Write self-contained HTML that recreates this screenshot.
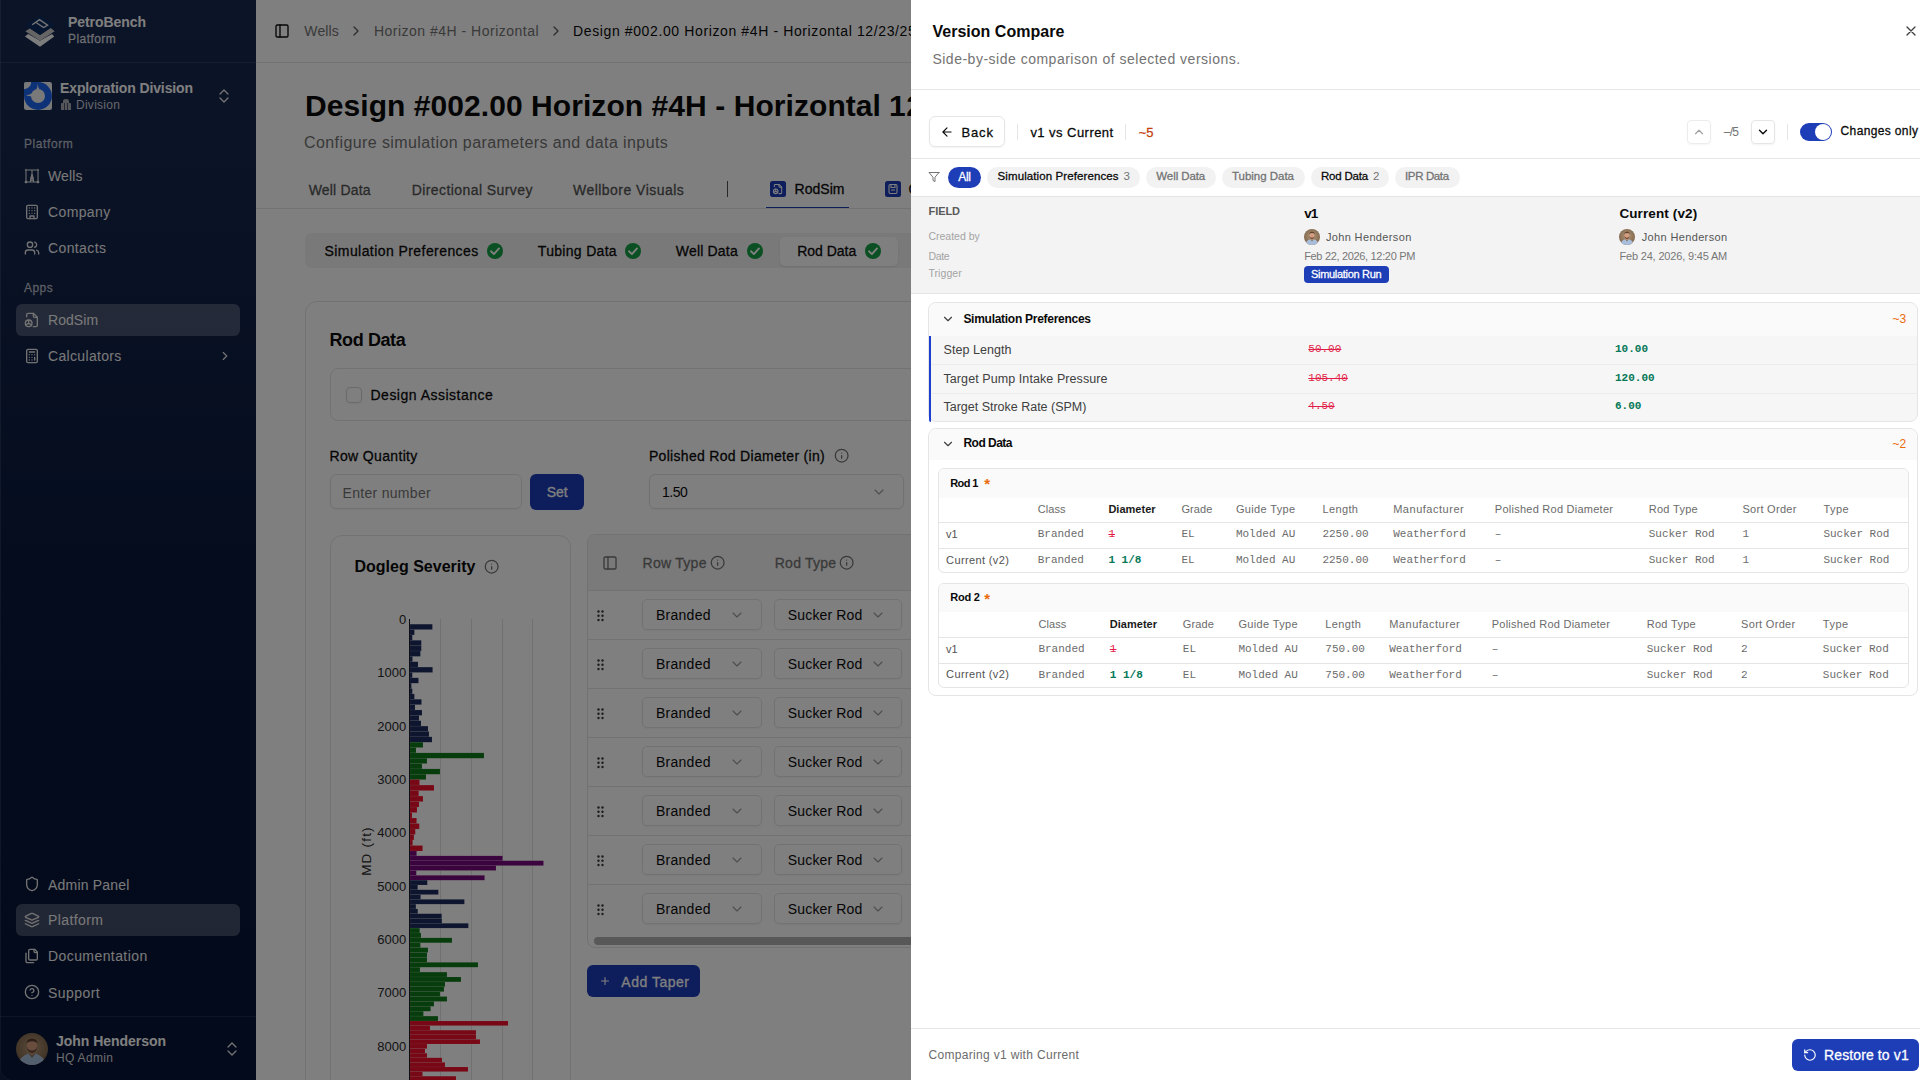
<!DOCTYPE html>
<html><head><meta charset="utf-8"><style>
html,body{margin:0;padding:0;width:1920px;height:1080px;overflow:hidden;background:#fff;font-family:'Liberation Sans',sans-serif}
.a{position:absolute;box-sizing:border-box}
.t{white-space:nowrap}
.m{-webkit-text-stroke:0.28px currentColor}

</style></head><body>
<div class="a" style="left:256px;top:0px;width:700px;height:1080px;background:#ffffff;"></div>
<div class="a" style="left:256px;top:62px;width:700px;height:1px;background:#e5e5e5;"></div>
<svg class="a" style="left:274px;top:23.2px;" width="16" height="16" viewBox="0 0 24 24" fill="none" stroke="#0a0a0a" stroke-width="2" stroke-linecap="round" stroke-linejoin="round"><rect width="18" height="18" x="3" y="3" rx="2"/><path d="M9 3v18"/></svg>
<div class="a t" id="t1" style="left:304.3px;top:24.3px;font-size:14px;line-height:14px;color:#737373;font-weight:400;font-family:'Liberation Sans',sans-serif;letter-spacing:0.118px;">Wells</div>
<svg class="a" style="left:347.9px;top:22.9px;" width="16" height="16" viewBox="0 0 24 24" fill="none" stroke="#5e5e5e" stroke-width="2" stroke-linecap="round" stroke-linejoin="round"><path d="m9 18 6-6-6-6"/></svg>
<div class="a t" id="t2" style="left:373.9px;top:24.3px;font-size:14px;line-height:14px;color:#737373;font-weight:400;font-family:'Liberation Sans',sans-serif;letter-spacing:0.498px;">Horizon #4H - Horizontal</div>
<svg class="a" style="left:547.9px;top:22.9px;" width="16" height="16" viewBox="0 0 24 24" fill="none" stroke="#5e5e5e" stroke-width="2" stroke-linecap="round" stroke-linejoin="round"><path d="m9 18 6-6-6-6"/></svg>
<div class="a t" id="t3" style="left:573px;top:24.3px;font-size:14px;line-height:14px;color:#0a0a0a;font-weight:400;font-family:'Liberation Sans',sans-serif;letter-spacing:0.62px;">Design #002.00 Horizon #4H - Horizontal 12/23/25</div>
<div class="a t" id="t4" style="left:305px;top:90.5px;font-size:30px;line-height:30px;color:#0a0a0a;font-weight:700;font-family:'Liberation Sans',sans-serif;letter-spacing:0.065px;">Design #002.00 Horizon #4H - Horizontal</div>
<div class="a t" id="t5" style="left:889px;top:90.5px;font-size:30px;line-height:30px;color:#0a0a0a;font-weight:700;font-family:'Liberation Sans',sans-serif;letter-spacing:0.6px;">12/23/25</div>
<div class="a t" id="t6" style="left:304px;top:135.1px;font-size:16px;line-height:16px;color:#737373;font-weight:400;font-family:'Liberation Sans',sans-serif;letter-spacing:0.407px;">Configure simulation parameters and data inputs</div>
<div class="a t m" id="t7" style="left:308.7px;top:183.1px;font-size:14px;line-height:14px;color:#525252;font-weight:500;font-family:'Liberation Sans',sans-serif;letter-spacing:0.184px;">Well Data</div>
<div class="a t m" id="t8" style="left:411.7px;top:183.1px;font-size:14px;line-height:14px;color:#525252;font-weight:500;font-family:'Liberation Sans',sans-serif;letter-spacing:0.422px;">Directional Survey</div>
<div class="a t m" id="t9" style="left:573px;top:183.1px;font-size:14px;line-height:14px;color:#525252;font-weight:500;font-family:'Liberation Sans',sans-serif;letter-spacing:0.467px;">Wellbore Visuals</div>
<div class="a" style="left:726.6px;top:180.8px;width:1.6px;height:16px;background:#505050;"></div>
<svg class="a" style="left:770px;top:181px" width="16" height="16" viewBox="0 0 16 16"><rect width="16" height="16" rx="2.5" fill="#1c3ab8"/><g transform="translate(2.5,2.5) scale(0.46)" fill="none" stroke="#fff" stroke-width="2.2" stroke-linecap="round" stroke-linejoin="round"><path d="M14 2v4a2 2 0 0 0 2 2h4"/><path d="M4 7V4a2 2 0 0 1 2-2h8l6 6v12a2 2 0 0 1-2 2h-4"/><circle cx="7" cy="17" r="5"/><path d="M7 12v5l4 2M7 17l-4 2"/></g></svg>
<div class="a t m" id="t10" style="left:794.5px;top:182.3px;font-size:14px;line-height:14px;color:#0a0a0a;font-weight:500;font-family:'Liberation Sans',sans-serif;letter-spacing:0.037px;">RodSim</div>
<div class="a" style="left:766px;top:207px;width:83px;height:2px;background:#1c3ab8;"></div>
<svg class="a" style="left:885px;top:181px" width="16" height="16" viewBox="0 0 16 16"><rect width="16" height="16" rx="2.5" fill="#1c3ab8"/><rect x="4" y="3.5" width="8" height="9" rx="1.2" fill="none" stroke="#fff" stroke-width="1.1"/><path d="M6 3.5v3h4v-3M6 9h4" stroke="#fff" stroke-width="1.1" fill="none"/></svg>
<div class="a t m" id="t11" style="left:908.5px;top:182.3px;font-size:14px;line-height:14px;color:#0a0a0a;font-weight:500;font-family:'Liberation Sans',sans-serif;">Calculators</div>
<div class="a" style="left:256px;top:208px;width:700px;height:1px;background:#e5e5e5;"></div>
<div class="a" style="left:304.5px;top:233.3px;width:700px;height:35px;background:#f2f2f2;border-radius:7px;"></div>
<div class="a" style="left:780px;top:237.2px;width:118px;height:28.6px;background:#ffffff;border-radius:5px;box-shadow:0 1px 2px rgba(0,0,0,0.08);"></div>
<div class="a t m" id="t12" style="left:324.5px;top:243.9px;font-size:14px;line-height:14px;color:#0a0a0a;font-weight:500;font-family:'Liberation Sans',sans-serif;letter-spacing:0.430px;">Simulation Preferences</div>
<svg class="a" style="left:487px;top:243px" width="16" height="16" viewBox="0 0 16 16"><circle cx="8" cy="8" r="8" fill="#15a046"/><path d="M4 8.3 L6.9 11.1 L12 5.4" fill="none" stroke="#fff" stroke-width="1.9" stroke-linecap="round" stroke-linejoin="round"/></svg>
<div class="a t m" id="t13" style="left:537.8px;top:243.9px;font-size:14px;line-height:14px;color:#0a0a0a;font-weight:500;font-family:'Liberation Sans',sans-serif;letter-spacing:0.310px;">Tubing Data</div>
<svg class="a" style="left:625px;top:243px" width="16" height="16" viewBox="0 0 16 16"><circle cx="8" cy="8" r="8" fill="#15a046"/><path d="M4 8.3 L6.9 11.1 L12 5.4" fill="none" stroke="#fff" stroke-width="1.9" stroke-linecap="round" stroke-linejoin="round"/></svg>
<div class="a t m" id="t14" style="left:675.8px;top:243.9px;font-size:14px;line-height:14px;color:#0a0a0a;font-weight:500;font-family:'Liberation Sans',sans-serif;letter-spacing:0.184px;">Well Data</div>
<svg class="a" style="left:747px;top:243px" width="16" height="16" viewBox="0 0 16 16"><circle cx="8" cy="8" r="8" fill="#15a046"/><path d="M4 8.3 L6.9 11.1 L12 5.4" fill="none" stroke="#fff" stroke-width="1.9" stroke-linecap="round" stroke-linejoin="round"/></svg>
<div class="a t m" id="t15" style="left:797.2px;top:243.9px;font-size:14px;line-height:14px;color:#0a0a0a;font-weight:500;font-family:'Liberation Sans',sans-serif;letter-spacing:-0.021px;">Rod Data</div>
<svg class="a" style="left:865px;top:243px" width="16" height="16" viewBox="0 0 16 16"><circle cx="8" cy="8" r="8" fill="#15a046"/><path d="M4 8.3 L6.9 11.1 L12 5.4" fill="none" stroke="#fff" stroke-width="1.9" stroke-linecap="round" stroke-linejoin="round"/></svg>
<div class="a" style="left:304.5px;top:301.3px;width:700px;height:900px;border:1px solid #e5e5e5;border-radius:12px;background:#fff;"></div>
<div class="a t" id="t16" style="left:329.5px;top:330.5px;font-size:18px;line-height:18px;color:#0a0a0a;font-weight:700;font-family:'Liberation Sans',sans-serif;letter-spacing:-0.402px;">Rod Data</div>
<div class="a" style="left:329.5px;top:368.3px;width:700px;height:53px;border:1px solid #e5e5e5;border-radius:8px;"></div>
<div class="a" style="left:346.3px;top:387.3px;width:15.6px;height:15.6px;border:1px solid #d4d4d4;border-radius:4px;box-shadow:0 1px 2px rgba(0,0,0,0.05);"></div>
<div class="a t m" id="t17" style="left:370.5px;top:387.8px;font-size:14px;line-height:14px;color:#0a0a0a;font-weight:500;font-family:'Liberation Sans',sans-serif;letter-spacing:0.491px;">Design Assistance</div>
<div class="a t m" id="t18" style="left:329.5px;top:449.3px;font-size:14px;line-height:14px;color:#0a0a0a;font-weight:500;font-family:'Liberation Sans',sans-serif;letter-spacing:0.344px;">Row Quantity</div>
<div class="a" style="left:329.5px;top:474.2px;width:192.2px;height:35px;border:1px solid #e5e5e5;border-radius:6px;box-shadow:0 1px 2px rgba(0,0,0,0.05);"></div>
<div class="a t" id="t19" style="left:342.5px;top:485.6px;font-size:14px;line-height:14px;color:#737373;font-weight:400;font-family:'Liberation Sans',sans-serif;letter-spacing:0.302px;">Enter number</div>
<div class="a" style="left:530px;top:474.2px;width:54px;height:35.5px;background:#1c3ab8;border-radius:6px;"></div>
<div class="a t m" id="t20" style="left:546.7px;top:484.8px;font-size:14px;line-height:14px;color:#ffffff;font-weight:500;font-family:'Liberation Sans',sans-serif;letter-spacing:-0.006px;">Set</div>
<div class="a t m" id="t21" style="left:648.9px;top:449.4px;font-size:14px;line-height:14px;color:#0a0a0a;font-weight:500;font-family:'Liberation Sans',sans-serif;letter-spacing:0.311px;">Polished Rod Diameter (in)</div>
<svg class="a" style="left:834.35px;top:448.35px;" width="15.3" height="15.3" viewBox="0 0 24 24" fill="none" stroke="#737373" stroke-width="2" stroke-linecap="round" stroke-linejoin="round"><circle cx="12" cy="12" r="10"/><path d="M12 16v-4M12 8h.01"/></svg>
<div class="a" style="left:648.5px;top:474.3px;width:255.2px;height:35.1px;border:1px solid #e5e5e5;border-radius:6px;box-shadow:0 1px 2px rgba(0,0,0,0.05);"></div>
<div class="a t" id="t22" style="left:662px;top:485.1px;font-size:14px;line-height:14px;color:#0a0a0a;font-weight:400;font-family:'Liberation Sans',sans-serif;letter-spacing:-0.471px;">1.50</div>
<svg class="a" style="left:871px;top:484px;" width="16" height="16" viewBox="0 0 24 24" fill="none" stroke="#9a9a9a" stroke-width="1.6" stroke-linecap="round" stroke-linejoin="round"><path d="m6 9 6 6 6-6"/></svg>
<div class="a" style="left:329.5px;top:534.5px;width:241px;height:700px;border:1px solid #e5e5e5;border-radius:12px;"></div>
<div class="a t" id="t23" style="left:354.5px;top:558.9px;font-size:16px;line-height:16px;color:#0a0a0a;font-weight:700;font-family:'Liberation Sans',sans-serif;letter-spacing:0.004px;">Dogleg Severity</div>
<svg class="a" style="left:484.35px;top:559.35px;" width="15.3" height="15.3" viewBox="0 0 24 24" fill="none" stroke="#737373" stroke-width="2" stroke-linecap="round" stroke-linejoin="round"><circle cx="12" cy="12" r="10"/><path d="M12 16v-4M12 8h.01"/></svg>
<div class="a" style="left:439.9px;top:619px;width:1px;height:470px;background:#e2e2e2;"></div>
<div class="a" style="left:471.1px;top:619px;width:1px;height:470px;background:#e2e2e2;"></div>
<div class="a" style="left:501.7px;top:619px;width:1px;height:470px;background:#e2e2e2;"></div>
<div class="a" style="left:532.2px;top:619px;width:1px;height:470px;background:#e2e2e2;"></div>
<div class="a t" style="left:340px;width:66.3px;text-align:right;top:613.1px;font-size:13px;line-height:13px;color:#2a2a2a;letter-spacing:0.05px">0</div>
<div class="a t" style="left:340px;width:66.3px;text-align:right;top:666.4px;font-size:13px;line-height:13px;color:#2a2a2a;letter-spacing:0.05px">1000</div>
<div class="a t" style="left:340px;width:66.3px;text-align:right;top:719.7px;font-size:13px;line-height:13px;color:#2a2a2a;letter-spacing:0.05px">2000</div>
<div class="a t" style="left:340px;width:66.3px;text-align:right;top:773.0px;font-size:13px;line-height:13px;color:#2a2a2a;letter-spacing:0.05px">3000</div>
<div class="a t" style="left:340px;width:66.3px;text-align:right;top:826.2px;font-size:13px;line-height:13px;color:#2a2a2a;letter-spacing:0.05px">4000</div>
<div class="a t" style="left:340px;width:66.3px;text-align:right;top:879.6px;font-size:13px;line-height:13px;color:#2a2a2a;letter-spacing:0.05px">5000</div>
<div class="a t" style="left:340px;width:66.3px;text-align:right;top:932.9px;font-size:13px;line-height:13px;color:#2a2a2a;letter-spacing:0.05px">6000</div>
<div class="a t" style="left:340px;width:66.3px;text-align:right;top:986.2px;font-size:13px;line-height:13px;color:#2a2a2a;letter-spacing:0.05px">7000</div>
<div class="a t" style="left:340px;width:66.3px;text-align:right;top:1039.5px;font-size:13px;line-height:13px;color:#2a2a2a;letter-spacing:0.05px">8000</div>
<div class="a t" style="left:336.5px;top:844px;width:60px;height:14px;font-size:13.5px;line-height:14px;color:#2a2a2a;text-align:center;transform:rotate(-90deg);letter-spacing:1.2px">MD (ft)</div>
<svg class="a" style="left:409.6px;top:600px" width="160" height="480" viewBox="0 0 160 480"><rect x="0" y="24.20" width="22.4" height="5.36" fill="#1c2a5c" stroke="rgba(255,255,255,0.18)" stroke-width="0.5"/><rect x="0" y="29.56" width="4.4" height="5.36" fill="#1c2a5c" stroke="rgba(255,255,255,0.18)" stroke-width="0.5"/><rect x="0" y="34.93" width="2.3" height="5.36" fill="#1c2a5c" stroke="rgba(255,255,255,0.18)" stroke-width="0.5"/><rect x="0" y="40.29" width="11.3" height="5.36" fill="#1c2a5c" stroke="rgba(255,255,255,0.18)" stroke-width="0.5"/><rect x="0" y="45.65" width="11.3" height="5.36" fill="#1c2a5c" stroke="rgba(255,255,255,0.18)" stroke-width="0.5"/><rect x="0" y="51.02" width="10.4" height="5.36" fill="#1c2a5c" stroke="rgba(255,255,255,0.18)" stroke-width="0.5"/><rect x="0" y="56.38" width="2.5" height="5.36" fill="#1c2a5c" stroke="rgba(255,255,255,0.18)" stroke-width="0.5"/><rect x="0" y="61.75" width="8.0" height="5.36" fill="#1c2a5c" stroke="rgba(255,255,255,0.18)" stroke-width="0.5"/><rect x="0" y="67.11" width="22.6" height="5.36" fill="#1c2a5c" stroke="rgba(255,255,255,0.18)" stroke-width="0.5"/><rect x="0" y="72.47" width="2.3" height="5.36" fill="#1c2a5c" stroke="rgba(255,255,255,0.18)" stroke-width="0.5"/><rect x="0" y="77.84" width="8.5" height="5.36" fill="#1c2a5c" stroke="rgba(255,255,255,0.18)" stroke-width="0.5"/><rect x="0" y="83.20" width="1.4" height="5.36" fill="#1c2a5c" stroke="rgba(255,255,255,0.18)" stroke-width="0.5"/><rect x="0" y="88.56" width="2.3" height="5.36" fill="#1c2a5c" stroke="rgba(255,255,255,0.18)" stroke-width="0.5"/><rect x="0" y="93.93" width="4.4" height="5.36" fill="#1c2a5c" stroke="rgba(255,255,255,0.18)" stroke-width="0.5"/><rect x="0" y="99.29" width="11.5" height="5.36" fill="#1c2a5c" stroke="rgba(255,255,255,0.18)" stroke-width="0.5"/><rect x="0" y="104.65" width="5.0" height="5.36" fill="#1c2a5c" stroke="rgba(255,255,255,0.18)" stroke-width="0.5"/><rect x="0" y="110.02" width="12.0" height="5.36" fill="#1c2a5c" stroke="rgba(255,255,255,0.18)" stroke-width="0.5"/><rect x="0" y="115.38" width="9.0" height="5.36" fill="#1c2a5c" stroke="rgba(255,255,255,0.18)" stroke-width="0.5"/><rect x="0" y="120.75" width="11.0" height="5.36" fill="#1c2a5c" stroke="rgba(255,255,255,0.18)" stroke-width="0.5"/><rect x="0" y="126.11" width="18.0" height="5.36" fill="#1c2a5c" stroke="rgba(255,255,255,0.18)" stroke-width="0.5"/><rect x="0" y="131.47" width="19.0" height="5.36" fill="#1c2a5c" stroke="rgba(255,255,255,0.18)" stroke-width="0.5"/><rect x="0" y="136.84" width="22.0" height="5.36" fill="#1c2a5c" stroke="rgba(255,255,255,0.18)" stroke-width="0.5"/><rect x="0" y="142.20" width="13.0" height="5.34" fill="#0f7a1a" stroke="rgba(255,255,255,0.18)" stroke-width="0.5"/><rect x="0" y="147.54" width="6.0" height="5.34" fill="#0f7a1a" stroke="rgba(255,255,255,0.18)" stroke-width="0.5"/><rect x="0" y="152.89" width="74.0" height="5.34" fill="#0f7a1a" stroke="rgba(255,255,255,0.18)" stroke-width="0.5"/><rect x="0" y="158.23" width="17.0" height="5.34" fill="#0f7a1a" stroke="rgba(255,255,255,0.18)" stroke-width="0.5"/><rect x="0" y="163.57" width="12.0" height="5.34" fill="#0f7a1a" stroke="rgba(255,255,255,0.18)" stroke-width="0.5"/><rect x="0" y="168.91" width="30.0" height="5.34" fill="#0f7a1a" stroke="rgba(255,255,255,0.18)" stroke-width="0.5"/><rect x="0" y="174.26" width="16.0" height="5.34" fill="#0f7a1a" stroke="rgba(255,255,255,0.18)" stroke-width="0.5"/><rect x="0" y="179.60" width="9.5" height="5.49" fill="#f0102a" stroke="rgba(255,255,255,0.18)" stroke-width="0.5"/><rect x="0" y="185.09" width="24.0" height="5.49" fill="#f0102a" stroke="rgba(255,255,255,0.18)" stroke-width="0.5"/><rect x="0" y="190.58" width="8.7" height="5.49" fill="#f0102a" stroke="rgba(255,255,255,0.18)" stroke-width="0.5"/><rect x="0" y="196.08" width="13.0" height="5.49" fill="#f0102a" stroke="rgba(255,255,255,0.18)" stroke-width="0.5"/><rect x="0" y="201.57" width="9.0" height="5.49" fill="#f0102a" stroke="rgba(255,255,255,0.18)" stroke-width="0.5"/><rect x="0" y="207.06" width="7.0" height="5.49" fill="#f0102a" stroke="rgba(255,255,255,0.18)" stroke-width="0.5"/><rect x="0" y="212.55" width="2.0" height="5.49" fill="#f0102a" stroke="rgba(255,255,255,0.18)" stroke-width="0.5"/><rect x="0" y="218.05" width="6.6" height="5.49" fill="#f0102a" stroke="rgba(255,255,255,0.18)" stroke-width="0.5"/><rect x="0" y="223.54" width="9.3" height="5.49" fill="#f0102a" stroke="rgba(255,255,255,0.18)" stroke-width="0.5"/><rect x="0" y="229.03" width="5.3" height="5.49" fill="#f0102a" stroke="rgba(255,255,255,0.18)" stroke-width="0.5"/><rect x="0" y="234.52" width="3.9" height="5.49" fill="#f0102a" stroke="rgba(255,255,255,0.18)" stroke-width="0.5"/><rect x="0" y="240.02" width="2.6" height="5.49" fill="#f0102a" stroke="rgba(255,255,255,0.18)" stroke-width="0.5"/><rect x="0" y="245.51" width="12.6" height="5.49" fill="#f0102a" stroke="rgba(255,255,255,0.18)" stroke-width="0.5"/><rect x="0" y="251.00" width="6.6" height="4.87" fill="#78087e" stroke="rgba(255,255,255,0.18)" stroke-width="0.5"/><rect x="0" y="255.87" width="92.6" height="4.87" fill="#78087e" stroke="rgba(255,255,255,0.18)" stroke-width="0.5"/><rect x="0" y="260.73" width="133.5" height="4.87" fill="#78087e" stroke="rgba(255,255,255,0.18)" stroke-width="0.5"/><rect x="0" y="265.60" width="86.0" height="4.87" fill="#78087e" stroke="rgba(255,255,255,0.18)" stroke-width="0.5"/><rect x="0" y="270.47" width="6.3" height="4.87" fill="#78087e" stroke="rgba(255,255,255,0.18)" stroke-width="0.5"/><rect x="0" y="275.33" width="74.6" height="4.87" fill="#78087e" stroke="rgba(255,255,255,0.18)" stroke-width="0.5"/><rect x="0" y="280.20" width="17.3" height="4.79" fill="#1c2a5c" stroke="rgba(255,255,255,0.18)" stroke-width="0.5"/><rect x="0" y="284.99" width="7.7" height="4.79" fill="#1c2a5c" stroke="rgba(255,255,255,0.18)" stroke-width="0.5"/><rect x="0" y="289.78" width="28.4" height="4.79" fill="#1c2a5c" stroke="rgba(255,255,255,0.18)" stroke-width="0.5"/><rect x="0" y="294.57" width="10.6" height="4.79" fill="#1c2a5c" stroke="rgba(255,255,255,0.18)" stroke-width="0.5"/><rect x="0" y="299.36" width="54.4" height="4.79" fill="#1c2a5c" stroke="rgba(255,255,255,0.18)" stroke-width="0.5"/><rect x="0" y="304.15" width="5.9" height="4.79" fill="#1c2a5c" stroke="rgba(255,255,255,0.18)" stroke-width="0.5"/><rect x="0" y="308.94" width="7.8" height="4.79" fill="#1c2a5c" stroke="rgba(255,255,255,0.18)" stroke-width="0.5"/><rect x="0" y="313.73" width="31.7" height="4.79" fill="#1c2a5c" stroke="rgba(255,255,255,0.18)" stroke-width="0.5"/><rect x="0" y="318.52" width="31.9" height="4.79" fill="#1c2a5c" stroke="rgba(255,255,255,0.18)" stroke-width="0.5"/><rect x="0" y="323.31" width="58.4" height="4.79" fill="#1c2a5c" stroke="rgba(255,255,255,0.18)" stroke-width="0.5"/><rect x="0" y="328.10" width="9.7" height="4.89" fill="#0f7a1a" stroke="rgba(255,255,255,0.18)" stroke-width="0.5"/><rect x="0" y="332.99" width="11.0" height="4.89" fill="#0f7a1a" stroke="rgba(255,255,255,0.18)" stroke-width="0.5"/><rect x="0" y="337.88" width="42.0" height="4.89" fill="#0f7a1a" stroke="rgba(255,255,255,0.18)" stroke-width="0.5"/><rect x="0" y="342.77" width="10.4" height="4.89" fill="#0f7a1a" stroke="rgba(255,255,255,0.18)" stroke-width="0.5"/><rect x="0" y="347.66" width="18.0" height="4.89" fill="#0f7a1a" stroke="rgba(255,255,255,0.18)" stroke-width="0.5"/><rect x="0" y="352.55" width="17.0" height="4.89" fill="#0f7a1a" stroke="rgba(255,255,255,0.18)" stroke-width="0.5"/><rect x="0" y="357.44" width="17.0" height="4.89" fill="#0f7a1a" stroke="rgba(255,255,255,0.18)" stroke-width="0.5"/><rect x="0" y="362.33" width="68.0" height="4.89" fill="#0f7a1a" stroke="rgba(255,255,255,0.18)" stroke-width="0.5"/><rect x="0" y="367.22" width="10.0" height="4.89" fill="#0f7a1a" stroke="rgba(255,255,255,0.18)" stroke-width="0.5"/><rect x="0" y="372.11" width="37.0" height="4.89" fill="#0f7a1a" stroke="rgba(255,255,255,0.18)" stroke-width="0.5"/><rect x="0" y="376.99" width="51.0" height="4.89" fill="#0f7a1a" stroke="rgba(255,255,255,0.18)" stroke-width="0.5"/><rect x="0" y="381.88" width="35.0" height="4.89" fill="#0f7a1a" stroke="rgba(255,255,255,0.18)" stroke-width="0.5"/><rect x="0" y="386.77" width="34.0" height="4.89" fill="#0f7a1a" stroke="rgba(255,255,255,0.18)" stroke-width="0.5"/><rect x="0" y="391.66" width="30.0" height="4.89" fill="#0f7a1a" stroke="rgba(255,255,255,0.18)" stroke-width="0.5"/><rect x="0" y="396.55" width="37.0" height="4.89" fill="#0f7a1a" stroke="rgba(255,255,255,0.18)" stroke-width="0.5"/><rect x="0" y="401.44" width="24.0" height="4.89" fill="#0f7a1a" stroke="rgba(255,255,255,0.18)" stroke-width="0.5"/><rect x="0" y="406.33" width="20.6" height="4.89" fill="#0f7a1a" stroke="rgba(255,255,255,0.18)" stroke-width="0.5"/><rect x="0" y="411.22" width="13.4" height="4.89" fill="#0f7a1a" stroke="rgba(255,255,255,0.18)" stroke-width="0.5"/><rect x="0" y="416.11" width="28.0" height="4.89" fill="#0f7a1a" stroke="rgba(255,255,255,0.18)" stroke-width="0.5"/><rect x="0" y="421.00" width="98.0" height="4.60" fill="#f0102a" stroke="rgba(255,255,255,0.18)" stroke-width="0.5"/><rect x="0" y="425.60" width="20.0" height="4.60" fill="#f0102a" stroke="rgba(255,255,255,0.18)" stroke-width="0.5"/><rect x="0" y="430.20" width="66.0" height="4.60" fill="#f0102a" stroke="rgba(255,255,255,0.18)" stroke-width="0.5"/><rect x="0" y="434.80" width="66.0" height="4.60" fill="#f0102a" stroke="rgba(255,255,255,0.18)" stroke-width="0.5"/><rect x="0" y="439.40" width="70.0" height="4.60" fill="#f0102a" stroke="rgba(255,255,255,0.18)" stroke-width="0.5"/><rect x="0" y="444.00" width="17.0" height="4.60" fill="#f0102a" stroke="rgba(255,255,255,0.18)" stroke-width="0.5"/><rect x="0" y="448.60" width="15.0" height="4.60" fill="#f0102a" stroke="rgba(255,255,255,0.18)" stroke-width="0.5"/><rect x="0" y="453.20" width="17.0" height="4.60" fill="#f0102a" stroke="rgba(255,255,255,0.18)" stroke-width="0.5"/><rect x="0" y="457.80" width="32.0" height="4.60" fill="#f0102a" stroke="rgba(255,255,255,0.18)" stroke-width="0.5"/><rect x="0" y="462.40" width="35.0" height="4.60" fill="#f0102a" stroke="rgba(255,255,255,0.18)" stroke-width="0.5"/><rect x="0" y="467.00" width="58.0" height="4.60" fill="#f0102a" stroke="rgba(255,255,255,0.18)" stroke-width="0.5"/><rect x="0" y="471.60" width="12.5" height="4.60" fill="#f0102a" stroke="rgba(255,255,255,0.18)" stroke-width="0.5"/><rect x="0" y="476.20" width="46.0" height="4.60" fill="#f0102a" stroke="rgba(255,255,255,0.18)" stroke-width="0.5"/><rect x="0" y="480.80" width="20.0" height="4.60" fill="#f0102a" stroke="rgba(255,255,255,0.18)" stroke-width="0.5"/></svg>
<div class="a" style="left:408.8px;top:619px;width:1.6px;height:470px;background:#1a1a2a;"></div>
<div class="a" style="left:587.4px;top:534.4px;width:500px;height:414px;border:1px solid #e5e5e5;border-radius:8px;overflow:hidden;"></div>
<div class="a" style="left:588.4px;top:535.4px;width:400px;height:55.5px;background:#f4f4f4;border-radius:7px 0 0 0;"></div>
<div class="a" style="left:588.4px;top:590.4px;width:400px;height:1px;background:#e5e5e5;"></div>
<svg class="a" style="left:602px;top:555px;" width="16" height="16" viewBox="0 0 24 24" fill="none" stroke="#737373" stroke-width="2" stroke-linecap="round" stroke-linejoin="round"><rect width="18" height="18" x="3" y="3" rx="2"/><path d="M9 3v18"/></svg>
<div class="a t m" id="t24" style="left:642.6px;top:555.9px;font-size:14px;line-height:14px;color:#737373;font-weight:500;font-family:'Liberation Sans',sans-serif;letter-spacing:0.267px;">Row Type</div>
<svg class="a" style="left:710.35px;top:555.35px;" width="15.3" height="15.3" viewBox="0 0 24 24" fill="none" stroke="#737373" stroke-width="2" stroke-linecap="round" stroke-linejoin="round"><circle cx="12" cy="12" r="10"/><path d="M12 16v-4M12 8h.01"/></svg>
<div class="a t m" id="t25" style="left:774.8px;top:555.9px;font-size:14px;line-height:14px;color:#737373;font-weight:500;font-family:'Liberation Sans',sans-serif;letter-spacing:0.217px;">Rod Type</div>
<svg class="a" style="left:839.35px;top:555.35px;" width="15.3" height="15.3" viewBox="0 0 24 24" fill="none" stroke="#737373" stroke-width="2" stroke-linecap="round" stroke-linejoin="round"><circle cx="12" cy="12" r="10"/><path d="M12 16v-4M12 8h.01"/></svg>
<div class="a" style="left:588.4px;top:639.1px;width:400px;height:1px;background:#e5e5e5;"></div>
<svg class="a" style="left:596.5px;top:609.5px" width="8" height="12" viewBox="0 0 8 12" fill="#3a3a3a"><circle cx="1.5" cy="1.5" r="1.2"/><circle cx="1.5" cy="5.75" r="1.2"/><circle cx="1.5" cy="10" r="1.2"/><circle cx="5.5" cy="1.5" r="1.2"/><circle cx="5.5" cy="5.75" r="1.2"/><circle cx="5.5" cy="10" r="1.2"/></svg>
<div class="a" style="left:642.4px;top:599.4px;width:119.6px;height:31.1px;border:1px solid #e5e5e5;border-radius:5px;box-shadow:0 1px 2px rgba(0,0,0,0.05);"></div>
<div class="a t" id="t26" style="left:656px;top:607.8px;font-size:14px;line-height:14px;color:#0a0a0a;font-weight:400;font-family:'Liberation Sans',sans-serif;letter-spacing:0.256px;">Branded</div>
<svg class="a" style="left:729px;top:606.9px;" width="16" height="16" viewBox="0 0 24 24" fill="none" stroke="#9a9a9a" stroke-width="1.6" stroke-linecap="round" stroke-linejoin="round"><path d="m6 9 6 6 6-6"/></svg>
<div class="a" style="left:774.4px;top:599.4px;width:127.4px;height:31.1px;border:1px solid #e5e5e5;border-radius:5px;box-shadow:0 1px 2px rgba(0,0,0,0.05);"></div>
<div class="a t" id="t27" style="left:787.8px;top:607.8px;font-size:14px;line-height:14px;color:#0a0a0a;font-weight:400;font-family:'Liberation Sans',sans-serif;letter-spacing:0.152px;">Sucker Rod</div>
<svg class="a" style="left:869.5px;top:606.9px;" width="16" height="16" viewBox="0 0 24 24" fill="none" stroke="#9a9a9a" stroke-width="1.6" stroke-linecap="round" stroke-linejoin="round"><path d="m6 9 6 6 6-6"/></svg>
<div class="a" style="left:588.4px;top:688.1px;width:400px;height:1px;background:#e5e5e5;"></div>
<svg class="a" style="left:596.5px;top:658.5px" width="8" height="12" viewBox="0 0 8 12" fill="#3a3a3a"><circle cx="1.5" cy="1.5" r="1.2"/><circle cx="1.5" cy="5.75" r="1.2"/><circle cx="1.5" cy="10" r="1.2"/><circle cx="5.5" cy="1.5" r="1.2"/><circle cx="5.5" cy="5.75" r="1.2"/><circle cx="5.5" cy="10" r="1.2"/></svg>
<div class="a" style="left:642.4px;top:648.4px;width:119.6px;height:31.1px;border:1px solid #e5e5e5;border-radius:5px;box-shadow:0 1px 2px rgba(0,0,0,0.05);"></div>
<div class="a t" id="t28" style="left:656px;top:656.8px;font-size:14px;line-height:14px;color:#0a0a0a;font-weight:400;font-family:'Liberation Sans',sans-serif;letter-spacing:0.256px;">Branded</div>
<svg class="a" style="left:729px;top:655.9px;" width="16" height="16" viewBox="0 0 24 24" fill="none" stroke="#9a9a9a" stroke-width="1.6" stroke-linecap="round" stroke-linejoin="round"><path d="m6 9 6 6 6-6"/></svg>
<div class="a" style="left:774.4px;top:648.4px;width:127.4px;height:31.1px;border:1px solid #e5e5e5;border-radius:5px;box-shadow:0 1px 2px rgba(0,0,0,0.05);"></div>
<div class="a t" id="t29" style="left:787.8px;top:656.8px;font-size:14px;line-height:14px;color:#0a0a0a;font-weight:400;font-family:'Liberation Sans',sans-serif;letter-spacing:0.152px;">Sucker Rod</div>
<svg class="a" style="left:869.5px;top:655.9px;" width="16" height="16" viewBox="0 0 24 24" fill="none" stroke="#9a9a9a" stroke-width="1.6" stroke-linecap="round" stroke-linejoin="round"><path d="m6 9 6 6 6-6"/></svg>
<div class="a" style="left:588.4px;top:737.1px;width:400px;height:1px;background:#e5e5e5;"></div>
<svg class="a" style="left:596.5px;top:707.5px" width="8" height="12" viewBox="0 0 8 12" fill="#3a3a3a"><circle cx="1.5" cy="1.5" r="1.2"/><circle cx="1.5" cy="5.75" r="1.2"/><circle cx="1.5" cy="10" r="1.2"/><circle cx="5.5" cy="1.5" r="1.2"/><circle cx="5.5" cy="5.75" r="1.2"/><circle cx="5.5" cy="10" r="1.2"/></svg>
<div class="a" style="left:642.4px;top:697.4px;width:119.6px;height:31.1px;border:1px solid #e5e5e5;border-radius:5px;box-shadow:0 1px 2px rgba(0,0,0,0.05);"></div>
<div class="a t" id="t30" style="left:656px;top:705.8px;font-size:14px;line-height:14px;color:#0a0a0a;font-weight:400;font-family:'Liberation Sans',sans-serif;letter-spacing:0.256px;">Branded</div>
<svg class="a" style="left:729px;top:704.9px;" width="16" height="16" viewBox="0 0 24 24" fill="none" stroke="#9a9a9a" stroke-width="1.6" stroke-linecap="round" stroke-linejoin="round"><path d="m6 9 6 6 6-6"/></svg>
<div class="a" style="left:774.4px;top:697.4px;width:127.4px;height:31.1px;border:1px solid #e5e5e5;border-radius:5px;box-shadow:0 1px 2px rgba(0,0,0,0.05);"></div>
<div class="a t" id="t31" style="left:787.8px;top:705.8px;font-size:14px;line-height:14px;color:#0a0a0a;font-weight:400;font-family:'Liberation Sans',sans-serif;letter-spacing:0.152px;">Sucker Rod</div>
<svg class="a" style="left:869.5px;top:704.9px;" width="16" height="16" viewBox="0 0 24 24" fill="none" stroke="#9a9a9a" stroke-width="1.6" stroke-linecap="round" stroke-linejoin="round"><path d="m6 9 6 6 6-6"/></svg>
<div class="a" style="left:588.4px;top:786.1px;width:400px;height:1px;background:#e5e5e5;"></div>
<svg class="a" style="left:596.5px;top:756.5px" width="8" height="12" viewBox="0 0 8 12" fill="#3a3a3a"><circle cx="1.5" cy="1.5" r="1.2"/><circle cx="1.5" cy="5.75" r="1.2"/><circle cx="1.5" cy="10" r="1.2"/><circle cx="5.5" cy="1.5" r="1.2"/><circle cx="5.5" cy="5.75" r="1.2"/><circle cx="5.5" cy="10" r="1.2"/></svg>
<div class="a" style="left:642.4px;top:746.4px;width:119.6px;height:31.1px;border:1px solid #e5e5e5;border-radius:5px;box-shadow:0 1px 2px rgba(0,0,0,0.05);"></div>
<div class="a t" id="t32" style="left:656px;top:754.8px;font-size:14px;line-height:14px;color:#0a0a0a;font-weight:400;font-family:'Liberation Sans',sans-serif;letter-spacing:0.256px;">Branded</div>
<svg class="a" style="left:729px;top:753.9px;" width="16" height="16" viewBox="0 0 24 24" fill="none" stroke="#9a9a9a" stroke-width="1.6" stroke-linecap="round" stroke-linejoin="round"><path d="m6 9 6 6 6-6"/></svg>
<div class="a" style="left:774.4px;top:746.4px;width:127.4px;height:31.1px;border:1px solid #e5e5e5;border-radius:5px;box-shadow:0 1px 2px rgba(0,0,0,0.05);"></div>
<div class="a t" id="t33" style="left:787.8px;top:754.8px;font-size:14px;line-height:14px;color:#0a0a0a;font-weight:400;font-family:'Liberation Sans',sans-serif;letter-spacing:0.152px;">Sucker Rod</div>
<svg class="a" style="left:869.5px;top:753.9px;" width="16" height="16" viewBox="0 0 24 24" fill="none" stroke="#9a9a9a" stroke-width="1.6" stroke-linecap="round" stroke-linejoin="round"><path d="m6 9 6 6 6-6"/></svg>
<div class="a" style="left:588.4px;top:835.1px;width:400px;height:1px;background:#e5e5e5;"></div>
<svg class="a" style="left:596.5px;top:805.5px" width="8" height="12" viewBox="0 0 8 12" fill="#3a3a3a"><circle cx="1.5" cy="1.5" r="1.2"/><circle cx="1.5" cy="5.75" r="1.2"/><circle cx="1.5" cy="10" r="1.2"/><circle cx="5.5" cy="1.5" r="1.2"/><circle cx="5.5" cy="5.75" r="1.2"/><circle cx="5.5" cy="10" r="1.2"/></svg>
<div class="a" style="left:642.4px;top:795.4px;width:119.6px;height:31.1px;border:1px solid #e5e5e5;border-radius:5px;box-shadow:0 1px 2px rgba(0,0,0,0.05);"></div>
<div class="a t" id="t34" style="left:656px;top:803.8px;font-size:14px;line-height:14px;color:#0a0a0a;font-weight:400;font-family:'Liberation Sans',sans-serif;letter-spacing:0.256px;">Branded</div>
<svg class="a" style="left:729px;top:802.9px;" width="16" height="16" viewBox="0 0 24 24" fill="none" stroke="#9a9a9a" stroke-width="1.6" stroke-linecap="round" stroke-linejoin="round"><path d="m6 9 6 6 6-6"/></svg>
<div class="a" style="left:774.4px;top:795.4px;width:127.4px;height:31.1px;border:1px solid #e5e5e5;border-radius:5px;box-shadow:0 1px 2px rgba(0,0,0,0.05);"></div>
<div class="a t" id="t35" style="left:787.8px;top:803.8px;font-size:14px;line-height:14px;color:#0a0a0a;font-weight:400;font-family:'Liberation Sans',sans-serif;letter-spacing:0.152px;">Sucker Rod</div>
<svg class="a" style="left:869.5px;top:802.9px;" width="16" height="16" viewBox="0 0 24 24" fill="none" stroke="#9a9a9a" stroke-width="1.6" stroke-linecap="round" stroke-linejoin="round"><path d="m6 9 6 6 6-6"/></svg>
<div class="a" style="left:588.4px;top:884.1px;width:400px;height:1px;background:#e5e5e5;"></div>
<svg class="a" style="left:596.5px;top:854.5px" width="8" height="12" viewBox="0 0 8 12" fill="#3a3a3a"><circle cx="1.5" cy="1.5" r="1.2"/><circle cx="1.5" cy="5.75" r="1.2"/><circle cx="1.5" cy="10" r="1.2"/><circle cx="5.5" cy="1.5" r="1.2"/><circle cx="5.5" cy="5.75" r="1.2"/><circle cx="5.5" cy="10" r="1.2"/></svg>
<div class="a" style="left:642.4px;top:844.4px;width:119.6px;height:31.1px;border:1px solid #e5e5e5;border-radius:5px;box-shadow:0 1px 2px rgba(0,0,0,0.05);"></div>
<div class="a t" id="t36" style="left:656px;top:852.8px;font-size:14px;line-height:14px;color:#0a0a0a;font-weight:400;font-family:'Liberation Sans',sans-serif;letter-spacing:0.256px;">Branded</div>
<svg class="a" style="left:729px;top:851.9px;" width="16" height="16" viewBox="0 0 24 24" fill="none" stroke="#9a9a9a" stroke-width="1.6" stroke-linecap="round" stroke-linejoin="round"><path d="m6 9 6 6 6-6"/></svg>
<div class="a" style="left:774.4px;top:844.4px;width:127.4px;height:31.1px;border:1px solid #e5e5e5;border-radius:5px;box-shadow:0 1px 2px rgba(0,0,0,0.05);"></div>
<div class="a t" id="t37" style="left:787.8px;top:852.8px;font-size:14px;line-height:14px;color:#0a0a0a;font-weight:400;font-family:'Liberation Sans',sans-serif;letter-spacing:0.152px;">Sucker Rod</div>
<svg class="a" style="left:869.5px;top:851.9px;" width="16" height="16" viewBox="0 0 24 24" fill="none" stroke="#9a9a9a" stroke-width="1.6" stroke-linecap="round" stroke-linejoin="round"><path d="m6 9 6 6 6-6"/></svg>
<svg class="a" style="left:596.5px;top:903.5px" width="8" height="12" viewBox="0 0 8 12" fill="#3a3a3a"><circle cx="1.5" cy="1.5" r="1.2"/><circle cx="1.5" cy="5.75" r="1.2"/><circle cx="1.5" cy="10" r="1.2"/><circle cx="5.5" cy="1.5" r="1.2"/><circle cx="5.5" cy="5.75" r="1.2"/><circle cx="5.5" cy="10" r="1.2"/></svg>
<div class="a" style="left:642.4px;top:893.4px;width:119.6px;height:31.1px;border:1px solid #e5e5e5;border-radius:5px;box-shadow:0 1px 2px rgba(0,0,0,0.05);"></div>
<div class="a t" id="t38" style="left:656px;top:901.8px;font-size:14px;line-height:14px;color:#0a0a0a;font-weight:400;font-family:'Liberation Sans',sans-serif;letter-spacing:0.256px;">Branded</div>
<svg class="a" style="left:729px;top:900.9px;" width="16" height="16" viewBox="0 0 24 24" fill="none" stroke="#9a9a9a" stroke-width="1.6" stroke-linecap="round" stroke-linejoin="round"><path d="m6 9 6 6 6-6"/></svg>
<div class="a" style="left:774.4px;top:893.4px;width:127.4px;height:31.1px;border:1px solid #e5e5e5;border-radius:5px;box-shadow:0 1px 2px rgba(0,0,0,0.05);"></div>
<div class="a t" id="t39" style="left:787.8px;top:901.8px;font-size:14px;line-height:14px;color:#0a0a0a;font-weight:400;font-family:'Liberation Sans',sans-serif;letter-spacing:0.152px;">Sucker Rod</div>
<svg class="a" style="left:869.5px;top:900.9px;" width="16" height="16" viewBox="0 0 24 24" fill="none" stroke="#9a9a9a" stroke-width="1.6" stroke-linecap="round" stroke-linejoin="round"><path d="m6 9 6 6 6-6"/></svg>
<div class="a" style="left:594px;top:937px;width:340px;height:8px;background:#b0b0b0;border-radius:4px;"></div>
<div class="a" style="left:587.1px;top:965.3px;width:112.5px;height:31.5px;background:#1c3ab8;border-radius:6px;"></div>
<svg class="a" style="left:599px;top:975px;" width="12" height="12" viewBox="0 0 24 24" fill="none" stroke="#fff" stroke-width="2.2" stroke-linecap="round" stroke-linejoin="round"><path d="M5 12h14M12 5v14"/></svg>
<div class="a t m" id="t40" style="left:621.3px;top:974.6px;font-size:14px;line-height:14px;color:#ffffff;font-weight:500;font-family:'Liberation Sans',sans-serif;letter-spacing:0.520px;">Add Taper</div>
<div class="a" style="left:0px;top:0px;width:256px;height:1080px;background:rgb(16,30,64);"></div>
<div class="a" style="left:0px;top:-20px;width:256px;height:1101px;background:linear-gradient(180deg,rgb(24,40,80) 0%,rgb(22,38,76) 15%,rgb(8,24,60) 55%,rgb(6,20,54) 100%);border-left:1px solid rgba(255,255,255,0.10);border-bottom:1px solid rgba(255,255,255,0.10);border-bottom-left-radius:13px;"></div>
<div class="a" style="left:0px;top:62px;width:256px;height:1px;background:rgba(255,255,255,0.10);"></div>
<svg class="a" style="left:0;top:0" width="80" height="62" viewBox="0 0 80 62"><polygon points="24.9,36.6 28.2,34.1 40.0,40.7 51.9,34.1 54.3,36.6 40.0,46.8" fill="#fafafa"/><polygon points="25.3,31.3 29.8,28.4 40.0,34.9 50.7,28.0 54.7,31.3 40.0,40.7" fill="#cacaca"/><polygon points="25.3,25.1 40.0,15.8 54.7,25.1 40.0,34.9" fill="#0f2d60"/><path d="M32.2,24.8 L39.5,19.6 L47.6,25.2 L43.6,27.6 L36.4,22.8" fill="none" stroke="#f0f0f0" stroke-width="1.3"/><path d="M38.5,21.4 L45,25.6" stroke="#f0f0f0" stroke-width="0" /></svg>
<div class="a t" id="t41" style="left:68px;top:15.1px;font-size:14px;line-height:14px;color:#ffffff;font-weight:700;font-family:'Liberation Sans',sans-serif;letter-spacing:-0.061px;">PetroBench</div>
<div class="a t m" id="t42" style="left:68px;top:32.8px;font-size:12px;line-height:12px;color:rgba(255,255,255,0.78);font-weight:500;font-family:'Liberation Sans',sans-serif;letter-spacing:0.442px;">Platform</div>
<svg class="a" style="left:24px;top:82px" width="28" height="28" viewBox="0 0 28 28"><defs><clipPath id="dv"><rect x="0" y="0" width="28" height="28" rx="2.2"/></clipPath></defs><g clip-path="url(#dv)"><rect x="0" y="0" width="28" height="28" fill="#f2f2f2"/><circle cx="14" cy="14" r="13.9" fill="#1b64ee"/><rect x="0" y="0" width="14" height="14" fill="#1b64ee"/><circle cx="0" cy="0" r="7.2" fill="#f2f2f2"/><circle cx="14" cy="14" r="7" fill="#f2f2f2"/><path d="M1.6 13.4 Q6 12.6 8.5 11 L8.8 14.8 Q5 13.8 1.6 13.4Z" fill="#f2f2f2"/><path d="M13.5 1.2 Q13.9 5 12.3 7.6 L15.6 7.4 Q13.9 5 13.5 1.2Z" fill="#f2f2f2"/></g></svg>
<div class="a t" id="t43" style="left:60px;top:81.1px;font-size:14px;line-height:14px;color:#ffffff;font-weight:700;font-family:'Liberation Sans',sans-serif;letter-spacing:-0.121px;">Exploration Division</div>
<svg class="a" style="left:60px;top:98px" width="12" height="13" viewBox="0 0 12 13"><path d="M1 12 V6 Q1 5 2 5 H3 V3 Q3 1 6 1 Q9 1 9 3 V5 H10 Q11 5 11 6 V12 Z" fill="#a9acb3"/><path d="M4.5 5v7M7.5 5v7" stroke="#303a55" stroke-width="0.8"/></svg>
<div class="a t" id="t44" style="left:76px;top:98.8px;font-size:12px;line-height:12px;color:rgba(255,255,255,0.78);font-weight:400;font-family:'Liberation Sans',sans-serif;letter-spacing:0.265px;">Division</div>
<svg class="a" style="left:218px;top:88px;" width="12" height="16" viewBox="0 0 12 16" fill="none" stroke="#e8e8e8" stroke-width="1.3" stroke-linecap="round" stroke-linejoin="round"><path d="M2 6 L6 2 L10 6 M2 10 L6 14 L10 10"/></svg>
<div class="a t m" id="t45" style="left:24px;top:137.8px;font-size:12px;line-height:12px;color:rgba(255,255,255,0.62);font-weight:500;font-family:'Liberation Sans',sans-serif;letter-spacing:0.575px;">Platform</div>
<div class="a t m" id="t46" style="left:24px;top:281.8px;font-size:12px;line-height:12px;color:rgba(255,255,255,0.62);font-weight:500;font-family:'Liberation Sans',sans-serif;letter-spacing:0.469px;">Apps</div>
<div class="a" style="left:16px;top:304px;width:224px;height:32px;background:rgba(255,255,255,0.23);border-radius:6px;"></div>
<div class="a" style="left:16px;top:904px;width:224px;height:32px;background:rgba(255,255,255,0.245);border-radius:6px;"></div>
<div class="a t" id="t47" style="left:48px;top:169.1px;font-size:14px;line-height:14px;color:#f2f2f2;font-weight:400;font-family:'Liberation Sans',sans-serif;letter-spacing:0.118px;">Wells</div>
<div class="a t" id="t48" style="left:48px;top:205.1px;font-size:14px;line-height:14px;color:#f2f2f2;font-weight:400;font-family:'Liberation Sans',sans-serif;letter-spacing:0.381px;">Company</div>
<div class="a t" id="t49" style="left:48px;top:241.1px;font-size:14px;line-height:14px;color:#f2f2f2;font-weight:400;font-family:'Liberation Sans',sans-serif;letter-spacing:0.380px;">Contacts</div>
<div class="a t" id="t50" style="left:48px;top:313.1px;font-size:14px;line-height:14px;color:#f2f2f2;font-weight:400;font-family:'Liberation Sans',sans-serif;letter-spacing:0.055px;">RodSim</div>
<div class="a t" id="t51" style="left:48px;top:349.1px;font-size:14px;line-height:14px;color:#f2f2f2;font-weight:400;font-family:'Liberation Sans',sans-serif;letter-spacing:0.330px;">Calculators</div>
<div class="a t" id="t52" style="left:48px;top:877.6px;font-size:14px;line-height:14px;color:#f2f2f2;font-weight:400;font-family:'Liberation Sans',sans-serif;letter-spacing:0.201px;">Admin Panel</div>
<div class="a t" id="t53" style="left:48px;top:913.3px;font-size:14px;line-height:14px;color:#f2f2f2;font-weight:400;font-family:'Liberation Sans',sans-serif;letter-spacing:0.410px;">Platform</div>
<div class="a t" id="t54" style="left:48px;top:949.4px;font-size:14px;line-height:14px;color:#f2f2f2;font-weight:400;font-family:'Liberation Sans',sans-serif;letter-spacing:0.418px;">Documentation</div>
<div class="a t" id="t55" style="left:48px;top:985.6px;font-size:14px;line-height:14px;color:#f2f2f2;font-weight:400;font-family:'Liberation Sans',sans-serif;letter-spacing:0.454px;">Support</div>
<svg class="a" style="left:24px;top:168px;" width="16" height="16" viewBox="0 0 24 24" fill="none" stroke="#e6e6e6" stroke-width="1.6" stroke-linecap="round" stroke-linejoin="round"><rect x="1.5" y="1.5" width="21" height="21" rx="1" stroke-width="0"/><path d="M2 3h20M3 2v20M21 2v20M2 21h20M12 4v3M9.5 20 L12 8 L14.5 20M10 14h4"/><circle cx="12" cy="17" r="1.6"/><circle cx="3" cy="21" r="1.2"/><circle cx="21" cy="21" r="1.2"/></svg>
<svg class="a" style="left:24px;top:204px;" width="16" height="16" viewBox="0 0 24 24" fill="none" stroke="#e6e6e6" stroke-width="2" stroke-linecap="round" stroke-linejoin="round"><rect x="4" y="2" width="16" height="20" rx="2"/><path d="M9 22v-4h6v4M8 6h.01M16 6h.01M12 6h.01M12 10h.01M12 14h.01M16 10h.01M16 14h.01M8 10h.01M8 14h.01"/></svg>
<svg class="a" style="left:24px;top:240px;" width="16" height="16" viewBox="0 0 24 24" fill="none" stroke="#e6e6e6" stroke-width="2" stroke-linecap="round" stroke-linejoin="round"><path d="M16 21v-2a4 4 0 0 0-4-4H6a4 4 0 0 0-4 4v2"/><circle cx="9" cy="7" r="4"/><path d="M22 21v-2a4 4 0 0 0-3-3.87M16 3.13a4 4 0 0 1 0 7.75"/></svg>
<svg class="a" style="left:24px;top:312px;" width="16" height="16" viewBox="0 0 24 24" fill="none" stroke="#e6e6e6" stroke-width="2" stroke-linecap="round" stroke-linejoin="round"><path d="M14 2v4a2 2 0 0 0 2 2h4"/><path d="M4 7V4a2 2 0 0 1 2-2h8l6 6v12a2 2 0 0 1-2 2h-4"/><circle cx="7" cy="17" r="5"/><path d="M7 12v5l4 2M7 17l-4 2"/></svg>
<svg class="a" style="left:24px;top:348px;" width="16" height="16" viewBox="0 0 24 24" fill="none" stroke="#e6e6e6" stroke-width="2" stroke-linecap="round" stroke-linejoin="round"><rect x="4" y="2" width="16" height="20" rx="2"/><path d="M8 6h8M16 14v4M16 10h.01M12 10h.01M8 10h.01M12 14h.01M8 14h.01M12 18h.01M8 18h.01"/></svg>
<svg class="a" style="left:218px;top:349px;" width="14" height="14" viewBox="0 0 24 24" fill="none" stroke="#e6e6e6" stroke-width="2" stroke-linecap="round" stroke-linejoin="round"><path d="m9 18 6-6-6-6"/></svg>
<svg class="a" style="left:24px;top:876px;" width="16" height="16" viewBox="0 0 24 24" fill="none" stroke="#e6e6e6" stroke-width="2" stroke-linecap="round" stroke-linejoin="round"><path d="M20 13c0 5-3.5 7.5-7.66 8.95a1 1 0 0 1-.67-.01C7.5 20.5 4 18 4 13V6a1 1 0 0 1 1-1c2 0 4.5-1.2 6.24-2.72a1.17 1.17 0 0 1 1.52 0C14.51 3.81 17 5 19 5a1 1 0 0 1 1 1z"/></svg>
<svg class="a" style="left:24px;top:912px;" width="16" height="16" viewBox="0 0 24 24" fill="none" stroke="#e6e6e6" stroke-width="2" stroke-linecap="round" stroke-linejoin="round"><path d="m12.83 2.18a2 2 0 0 0-1.66 0L2.6 6.08a1 1 0 0 0 0 1.83l8.58 3.91a2 2 0 0 0 1.66 0l8.58-3.9a1 1 0 0 0 0-1.83Z"/><path d="m22 17.65-9.17 4.16a2 2 0 0 1-1.66 0L2 17.65"/><path d="m22 12.65-9.17 4.16a2 2 0 0 1-1.66 0L2 12.65"/></svg>
<svg class="a" style="left:24px;top:948px;" width="16" height="16" viewBox="0 0 24 24" fill="none" stroke="#e6e6e6" stroke-width="2" stroke-linecap="round" stroke-linejoin="round"><path d="M20 7h-3a2 2 0 0 1-2-2V2"/><path d="M9 18a2 2 0 0 1-2-2V4a2 2 0 0 1 2-2h7l4 4v10a2 2 0 0 1-2 2Z"/><path d="M3 7.6v12.8A1.6 1.6 0 0 0 4.6 22h9.8"/></svg>
<svg class="a" style="left:24px;top:984px;" width="16" height="16" viewBox="0 0 24 24" fill="none" stroke="#e6e6e6" stroke-width="2" stroke-linecap="round" stroke-linejoin="round"><circle cx="12" cy="12" r="10"/><path d="M9.09 9a3 3 0 0 1 5.83 1c0 2-3 3-3 3M12 17h.01"/></svg>
<div class="a" style="left:0px;top:1016px;width:256px;height:1px;background:rgba(255,255,255,0.10);"></div>
<svg class="a" style="left:16px;top:1033px" width="32" height="32" viewBox="0 0 32 32"><defs><clipPath id="avc1"><circle cx="16" cy="16" r="16"/></clipPath><radialGradient id="avg1" cx="50%" cy="45%" r="60%"><stop offset="0" stop-color="#b49a78"/><stop offset="1" stop-color="#7a6048"/></radialGradient></defs><g clip-path="url(#avc1)"><rect width="32" height="32" fill="url(#avg1)"/><rect x="13" y="16" width="6" height="6" fill="#b98a6c"/><path d="M2 32 Q4 23 12.5 20.5 L16 25 L19.5 20.5 Q28 23 30 32Z" fill="#a8bedb"/><path d="M12.5 20.5 L16 25 L14.5 22Z M19.5 20.5 L16 25 L17.5 22Z" fill="#5d708a"/><ellipse cx="16" cy="12.8" rx="5.2" ry="6.6" fill="#d29d80"/><path d="M10.8 13.5 Q11.5 19.8 16 20 Q20.5 19.8 21.2 13.5 Q20 17.5 16 17.6 Q12 17.5 10.8 13.5Z" fill="#6e4c38"/><path d="M10.6 11 Q10.6 5.5 16 5.4 Q21.6 5.5 21.4 11 Q20.5 8.2 16 8.2 Q11.6 8.2 10.6 11Z" fill="#5a3e2c"/></g></svg>
<div class="a t" id="t56" style="left:56px;top:1034.1px;font-size:14px;line-height:14px;color:#ffffff;font-weight:700;font-family:'Liberation Sans',sans-serif;letter-spacing:-0.035px;">John Henderson</div>
<div class="a t" id="t57" style="left:56px;top:1051.8px;font-size:12px;line-height:12px;color:rgba(255,255,255,0.85);font-weight:400;font-family:'Liberation Sans',sans-serif;letter-spacing:0.308px;">HQ Admin</div>
<svg class="a" style="left:226px;top:1041px;" width="12" height="16" viewBox="0 0 12 16" fill="none" stroke="#e8e8e8" stroke-width="1.3" stroke-linecap="round" stroke-linejoin="round"><path d="M2 6 L6 2 L10 6 M2 10 L6 14 L10 10"/></svg>
<div class="a" style="left:0;top:0;width:911px;height:1080px;background:rgba(0,0,0,0.5)"></div>
<div class="a" style="left:911px;top:0px;width:1009px;height:1080px;background:#ffffff;"></div>
<div class="a t" id="t58" style="left:932.4px;top:23.5px;font-size:16px;line-height:16px;color:#0a0a0a;font-weight:700;font-family:'Liberation Sans',sans-serif;letter-spacing:0.027px;">Version Compare</div>
<div class="a t" id="t59" style="left:932.4px;top:51.8px;font-size:14px;line-height:14px;color:#737373;font-weight:400;font-family:'Liberation Sans',sans-serif;letter-spacing:0.504px;">Side-by-side comparison of selected versions.</div>
<svg class="a" style="left:1903px;top:22.7px;" width="16" height="16" viewBox="0 0 24 24" fill="none" stroke="#3c3c3c" stroke-width="1.9" stroke-linecap="round" stroke-linejoin="round"><path d="M18 6 6 18M6 6l12 12"/></svg>
<div class="a" style="left:911px;top:89px;width:1009px;height:1px;background:#e5e5e5;"></div>
<div class="a" style="left:928.5px;top:116.2px;width:76px;height:31.2px;border:1px solid #e5e5e5;border-radius:6px;box-shadow:0 1px 2px rgba(0,0,0,0.05);"></div>
<svg class="a" style="left:939.8px;top:125.1px;" width="14" height="14" viewBox="0 0 24 24" fill="none" stroke="#0a0a0a" stroke-width="2" stroke-linecap="round" stroke-linejoin="round"><path d="m12 19-7-7 7-7M19 12H5"/></svg>
<div class="a t m" id="t60" style="left:961.4px;top:125.55px;font-size:13px;line-height:13px;color:#0a0a0a;font-weight:500;font-family:'Liberation Sans',sans-serif;letter-spacing:0.884px;">Back</div>
<div class="a" style="left:1017px;top:124.4px;width:1px;height:15.6px;background:#e5e5e5;"></div>
<div class="a t m" id="t61" style="left:1030.4px;top:125.55px;font-size:13px;line-height:13px;color:#0a0a0a;font-weight:500;font-family:'Liberation Sans',sans-serif;letter-spacing:0.455px;">v1 vs Current</div>
<div class="a" style="left:1125.2px;top:124.4px;width:1px;height:15.6px;background:#e5e5e5;"></div>
<div class="a t m" id="t62" style="left:1138.7px;top:125.55px;font-size:13px;line-height:13px;color:#c2410c;font-weight:500;font-family:'Liberation Sans',sans-serif;letter-spacing:-0.152px;">~5</div>
<div class="a" style="left:1687.3px;top:120.2px;width:23.4px;height:23.4px;border:1px solid #ececec;border-radius:4px;box-shadow:0 1px 2px rgba(0,0,0,0.04);"></div>
<svg class="a" style="left:1692px;top:125px;" width="14" height="14" viewBox="0 0 24 24" fill="none" stroke="#a0a0a0" stroke-width="2" stroke-linecap="round" stroke-linejoin="round"><path d="m18 15-6-6-6 6"/></svg>
<div class="a t" id="t63" style="left:1723.8px;top:125.6px;font-size:12px;line-height:12px;color:#737373;font-weight:400;font-family:'Liberation Sans',sans-serif;letter-spacing:-0.835px;">–/5</div>
<div class="a" style="left:1751.4px;top:120.2px;width:23.4px;height:23.4px;border:1px solid #e5e5e5;border-radius:4px;box-shadow:0 1px 2px rgba(0,0,0,0.05);"></div>
<svg class="a" style="left:1756px;top:125px;" width="14" height="14" viewBox="0 0 24 24" fill="none" stroke="#0a0a0a" stroke-width="2.4" stroke-linecap="round" stroke-linejoin="round"><path d="m6 9 6 6 6-6"/></svg>
<div class="a" style="left:1787.2px;top:124px;width:1px;height:15.7px;background:#e5e5e5;"></div>
<div class="a" style="left:1800px;top:122.8px;width:32px;height:18.2px;background:#1e3eb8;border-radius:9.1px;"></div>
<div class="a" style="left:1815px;top:123.9px;width:16px;height:16px;background:#fff;border-radius:8px;"></div>
<div class="a t m" id="t64" style="left:1840.6px;top:125.2px;font-size:12px;line-height:12px;color:#0a0a0a;font-weight:500;font-family:'Liberation Sans',sans-serif;letter-spacing:0.357px;">Changes only</div>
<div class="a" style="left:911px;top:158.3px;width:1009px;height:1px;background:#e5e5e5;"></div>
<svg class="a" style="left:928px;top:171px;" width="12" height="12" viewBox="0 0 24 24" fill="none" stroke="#737373" stroke-width="2" stroke-linecap="round" stroke-linejoin="round"><path d="M22 3H2l8 9.46V19l4 2v-8.54L22 3z"/></svg>
<div class="a" style="left:948px;top:167px;width:33px;height:20.7px;background:#1e3eb8;border-radius:10.5px;"></div>
<div class="a t m" id="t65" style="left:958.3px;top:170.6px;font-size:12px;line-height:12px;color:#ffffff;font-weight:500;font-family:'Liberation Sans',sans-serif;letter-spacing:-0.298px;">All</div>
<div class="a" style="left:987.2px;top:167px;width:152.5999999999999px;height:20.7px;background:#f2f2f2;border-radius:10.5px;"></div>
<div class="a t m" id="t66" style="left:997.6px;top:171.03px;font-size:11.5px;line-height:11.5px;color:#0a0a0a;font-weight:500;font-family:'Liberation Sans',sans-serif;letter-spacing:0.097px;">Simulation Preferences</div>
<div class="a t" id="t67" style="left:1123.5px;top:171.03px;font-size:11.5px;line-height:11.5px;color:#737373;font-weight:400;font-family:'Liberation Sans',sans-serif;">3</div>
<div class="a" style="left:1146.2px;top:167px;width:69.89999999999986px;height:20.7px;background:#f2f2f2;border-radius:10.5px;"></div>
<div class="a t m" id="t68" style="left:1156.3px;top:171.03px;font-size:11.5px;line-height:11.5px;color:#737373;font-weight:500;font-family:'Liberation Sans',sans-serif;letter-spacing:-0.087px;">Well Data</div>
<div class="a" style="left:1222px;top:167px;width:82.70000000000005px;height:20.7px;background:#f2f2f2;border-radius:10.5px;"></div>
<div class="a t m" id="t69" style="left:1232px;top:171.03px;font-size:11.5px;line-height:11.5px;color:#737373;font-weight:500;font-family:'Liberation Sans',sans-serif;letter-spacing:-0.022px;">Tubing Data</div>
<div class="a" style="left:1311px;top:167px;width:77.79999999999995px;height:20.7px;background:#f2f2f2;border-radius:10.5px;"></div>
<div class="a t m" id="t70" style="left:1321px;top:171.03px;font-size:11.5px;line-height:11.5px;color:#0a0a0a;font-weight:500;font-family:'Liberation Sans',sans-serif;letter-spacing:-0.212px;">Rod Data</div>
<div class="a t" id="t71" style="left:1372.9px;top:171.03px;font-size:11.5px;line-height:11.5px;color:#737373;font-weight:400;font-family:'Liberation Sans',sans-serif;">2</div>
<div class="a" style="left:1395px;top:167px;width:64.59999999999991px;height:20.7px;background:#f2f2f2;border-radius:10.5px;"></div>
<div class="a t m" id="t72" style="left:1405px;top:171.03px;font-size:11.5px;line-height:11.5px;color:#737373;font-weight:500;font-family:'Liberation Sans',sans-serif;letter-spacing:-0.370px;">IPR Data</div>
<div class="a" style="left:911px;top:196.4px;width:1009px;height:1px;background:#e5e5e5;"></div>
<div class="a" style="left:911px;top:197.4px;width:1009px;height:95.8px;background:#f3f3f3;"></div>
<div class="a" style="left:911px;top:293.2px;width:1009px;height:1px;background:#e5e5e5;"></div>
<div class="a t" id="t73" style="left:928.5px;top:205.65px;font-size:11px;line-height:11px;color:#5a5a5a;font-weight:700;font-family:'Liberation Sans',sans-serif;letter-spacing:-0.062px;">FIELD</div>
<div class="a t" id="t74" style="left:928.5px;top:230.77px;font-size:10.5px;line-height:10.5px;color:#a3a3a3;font-weight:400;font-family:'Liberation Sans',sans-serif;letter-spacing:-0.018px;">Created by</div>
<div class="a t" id="t75" style="left:928.5px;top:251.07px;font-size:10.5px;line-height:10.5px;color:#a3a3a3;font-weight:400;font-family:'Liberation Sans',sans-serif;letter-spacing:-0.339px;">Date</div>
<div class="a t" id="t76" style="left:928.5px;top:267.97px;font-size:10.5px;line-height:10.5px;color:#a3a3a3;font-weight:400;font-family:'Liberation Sans',sans-serif;letter-spacing:0.050px;">Trigger</div>
<div class="a t" id="t77" style="left:1304.2px;top:206.53px;font-size:13.5px;line-height:13.5px;color:#0a0a0a;font-weight:700;font-family:'Liberation Sans',sans-serif;letter-spacing:-1.021px;">v1</div>
<svg class="a" style="left:1304px;top:229px" width="16" height="16" viewBox="0 0 32 32"><defs><clipPath id="avc2"><circle cx="16" cy="16" r="16"/></clipPath><radialGradient id="avg2" cx="50%" cy="45%" r="60%"><stop offset="0" stop-color="#b49a78"/><stop offset="1" stop-color="#7a6048"/></radialGradient></defs><g clip-path="url(#avc2)"><rect width="32" height="32" fill="url(#avg2)"/><rect x="13" y="16" width="6" height="6" fill="#b98a6c"/><path d="M2 32 Q4 23 12.5 20.5 L16 25 L19.5 20.5 Q28 23 30 32Z" fill="#a8bedb"/><path d="M12.5 20.5 L16 25 L14.5 22Z M19.5 20.5 L16 25 L17.5 22Z" fill="#5d708a"/><ellipse cx="16" cy="12.8" rx="5.2" ry="6.6" fill="#d29d80"/><path d="M10.8 13.5 Q11.5 19.8 16 20 Q20.5 19.8 21.2 13.5 Q20 17.5 16 17.6 Q12 17.5 10.8 13.5Z" fill="#6e4c38"/><path d="M10.6 11 Q10.6 5.5 16 5.4 Q21.6 5.5 21.4 11 Q20.5 8.2 16 8.2 Q11.6 8.2 10.6 11Z" fill="#5a3e2c"/></g></svg>
<div class="a t" id="t78" style="left:1325.9px;top:231.65px;font-size:11px;line-height:11px;color:#555555;font-weight:400;font-family:'Liberation Sans',sans-serif;letter-spacing:0.360px;">John Henderson</div>
<div class="a t" id="t79" style="left:1304.2px;top:250.65px;font-size:11px;line-height:11px;color:#777777;font-weight:400;font-family:'Liberation Sans',sans-serif;letter-spacing:-0.327px;">Feb 22, 2026, 12:20 PM</div>
<div class="a" style="left:1304px;top:265.8px;width:85px;height:16.9px;background:#1e3eb8;border-radius:4px;"></div>
<div class="a t m" id="t80" style="left:1311px;top:268.95px;font-size:11px;line-height:11px;color:#ffffff;font-weight:500;font-family:'Liberation Sans',sans-serif;letter-spacing:-0.311px;">Simulation Run</div>
<div class="a t" id="t81" style="left:1619.4px;top:206.53px;font-size:13.5px;line-height:13.5px;color:#0a0a0a;font-weight:700;font-family:'Liberation Sans',sans-serif;letter-spacing:0.112px;">Current (v2)</div>
<svg class="a" style="left:1619px;top:229px" width="16" height="16" viewBox="0 0 32 32"><defs><clipPath id="avc3"><circle cx="16" cy="16" r="16"/></clipPath><radialGradient id="avg3" cx="50%" cy="45%" r="60%"><stop offset="0" stop-color="#b49a78"/><stop offset="1" stop-color="#7a6048"/></radialGradient></defs><g clip-path="url(#avc3)"><rect width="32" height="32" fill="url(#avg3)"/><rect x="13" y="16" width="6" height="6" fill="#b98a6c"/><path d="M2 32 Q4 23 12.5 20.5 L16 25 L19.5 20.5 Q28 23 30 32Z" fill="#a8bedb"/><path d="M12.5 20.5 L16 25 L14.5 22Z M19.5 20.5 L16 25 L17.5 22Z" fill="#5d708a"/><ellipse cx="16" cy="12.8" rx="5.2" ry="6.6" fill="#d29d80"/><path d="M10.8 13.5 Q11.5 19.8 16 20 Q20.5 19.8 21.2 13.5 Q20 17.5 16 17.6 Q12 17.5 10.8 13.5Z" fill="#6e4c38"/><path d="M10.6 11 Q10.6 5.5 16 5.4 Q21.6 5.5 21.4 11 Q20.5 8.2 16 8.2 Q11.6 8.2 10.6 11Z" fill="#5a3e2c"/></g></svg>
<div class="a t" id="t82" style="left:1641.7px;top:231.65px;font-size:11px;line-height:11px;color:#555555;font-weight:400;font-family:'Liberation Sans',sans-serif;letter-spacing:0.360px;">John Henderson</div>
<div class="a t" id="t83" style="left:1619.4px;top:250.65px;font-size:11px;line-height:11px;color:#777777;font-weight:400;font-family:'Liberation Sans',sans-serif;letter-spacing:-0.171px;">Feb 24, 2026, 9:45 AM</div>
<div class="a" style="left:928.4px;top:302.3px;width:990.1px;height:120.2px;border:1px solid #e5e5e5;border-radius:8px;background:#f6f6f6;overflow:hidden;"></div>
<div class="a" style="left:929.4px;top:303.3px;width:988.1px;height:33px;background:#fafafa;border-radius:7px 7px 0 0;"></div>
<svg class="a" style="left:941px;top:311.5px;" width="14" height="14" viewBox="0 0 24 24" fill="none" stroke="#404040" stroke-width="2" stroke-linecap="round" stroke-linejoin="round"><path d="m6 9 6 6 6-6"/></svg>
<div class="a t" id="t84" style="left:963.4px;top:312.7px;font-size:12px;line-height:12px;color:#0a0a0a;font-weight:700;font-family:'Liberation Sans',sans-serif;letter-spacing:-0.274px;">Simulation Preferences</div>
<div class="a t" id="t85" style="left:1892.5px;top:312.6px;font-size:12px;line-height:12px;color:#ea6a0c;font-weight:400;font-family:'Liberation Sans',sans-serif;letter-spacing:-0.125px;">~3</div>
<div class="a" style="left:929.4px;top:364.3px;width:988.1px;height:1px;background:#ececec;"></div>
<div class="a" style="left:929.4px;top:393px;width:988.1px;height:1px;background:#ececec;"></div>
<div class="a" style="left:928.6px;top:336.3px;width:2.6px;height:85.6px;background:#1d3fd0;border-radius:0 0 0 7px"></div>
<div class="a t" id="t86" style="left:943.5px;top:343.68px;font-size:12.5px;line-height:12.5px;color:#404040;font-weight:400;font-family:'Liberation Sans',sans-serif;letter-spacing:0.055px;">Step Length</div>
<div class="a t" id="t87" style="left:1308.3px;top:343.94px;font-size:11px;line-height:11px;color:#e11d48;font-weight:400;font-family:'Liberation Mono',monospace;text-decoration:line-through;text-decoration-thickness:1px;">50.00</div>
<div class="a t" id="t88" style="left:1615px;top:343.94px;font-size:11px;line-height:11px;color:#047857;font-weight:700;font-family:'Liberation Mono',monospace;">10.00</div>
<div class="a t" id="t89" style="left:943.5px;top:372.57px;font-size:12.5px;line-height:12.5px;color:#404040;font-weight:400;font-family:'Liberation Sans',sans-serif;letter-spacing:0.080px;">Target Pump Intake Pressure</div>
<div class="a t" id="t90" style="left:1308.3px;top:372.84px;font-size:11px;line-height:11px;color:#e11d48;font-weight:400;font-family:'Liberation Mono',monospace;text-decoration:line-through;text-decoration-thickness:1px;">105.40</div>
<div class="a t" id="t91" style="left:1615px;top:372.84px;font-size:11px;line-height:11px;color:#047857;font-weight:700;font-family:'Liberation Mono',monospace;">120.00</div>
<div class="a t" id="t92" style="left:943.5px;top:401.38px;font-size:12.5px;line-height:12.5px;color:#404040;font-weight:400;font-family:'Liberation Sans',sans-serif;letter-spacing:-0.009px;">Target Stroke Rate (SPM)</div>
<div class="a t" id="t93" style="left:1308.3px;top:401.24px;font-size:11px;line-height:11px;color:#e11d48;font-weight:400;font-family:'Liberation Mono',monospace;text-decoration:line-through;text-decoration-thickness:1px;">4.50</div>
<div class="a t" id="t94" style="left:1615px;top:401.24px;font-size:11px;line-height:11px;color:#047857;font-weight:700;font-family:'Liberation Mono',monospace;">6.00</div>
<div class="a" style="left:928.4px;top:427.5px;width:990.1px;height:268.6px;border:1px solid #e5e5e5;border-radius:8px;background:#fff;overflow:hidden;"></div>
<div class="a" style="left:929.4px;top:428.5px;width:988.1px;height:31.5px;background:#fafafa;border-radius:7px 7px 0 0;"></div>
<svg class="a" style="left:941px;top:436.5px;" width="14" height="14" viewBox="0 0 24 24" fill="none" stroke="#404040" stroke-width="2" stroke-linecap="round" stroke-linejoin="round"><path d="m6 9 6 6 6-6"/></svg>
<div class="a t" id="t95" style="left:963.4px;top:437.1px;font-size:12px;line-height:12px;color:#0a0a0a;font-weight:700;font-family:'Liberation Sans',sans-serif;letter-spacing:-0.503px;">Rod Data</div>
<div class="a t" id="t96" style="left:1892.5px;top:437.6px;font-size:12px;line-height:12px;color:#ea6a0c;font-weight:400;font-family:'Liberation Sans',sans-serif;letter-spacing:-0.125px;">~2</div>
<div class="a" style="left:937.6px;top:468.4px;width:971.5px;height:104.9px;border:1px solid #e5e5e5;border-radius:6px;overflow:hidden;background:#fff;"></div>
<div class="a" style="left:938.6px;top:469.4px;width:969.5px;height:28.6px;background:#fafafa;border-radius:5px 5px 0 0;"></div>
<div class="a t" id="t97" style="left:950.2px;top:477.75px;font-size:11px;line-height:11px;color:#0a0a0a;font-weight:700;font-family:'Liberation Sans',sans-serif;letter-spacing:-0.569px;">Rod 1</div>
<div class="a t" id="t98" style="left:984.2px;top:476.45px;font-size:15px;line-height:15px;color:#ea6a0c;font-weight:700;font-family:'Liberation Sans',sans-serif;">*</div>
<div class="a" style="left:938.6px;top:522.1999999999999px;width:969.5px;height:1px;background:#e5e5e5;"></div>
<div class="a" style="left:938.6px;top:548.1px;width:969.5px;height:1px;background:#e5e5e5;"></div>
<div class="a t" id="t99" style="left:1037.7px;top:504.45px;font-size:11px;line-height:11px;color:#6b6b6b;font-weight:400;font-family:'Liberation Sans',sans-serif;letter-spacing:0.108px;">Class</div>
<div class="a t" id="t100" style="left:1108.4px;top:504.45px;font-size:11px;line-height:11px;color:#1a1a1a;font-weight:700;font-family:'Liberation Sans',sans-serif;letter-spacing:0.016px;">Diameter</div>
<div class="a t" id="t101" style="left:1181.4px;top:504.45px;font-size:11px;line-height:11px;color:#6b6b6b;font-weight:400;font-family:'Liberation Sans',sans-serif;letter-spacing:0.116px;">Grade</div>
<div class="a t" id="t102" style="left:1235.9px;top:504.45px;font-size:11px;line-height:11px;color:#6b6b6b;font-weight:400;font-family:'Liberation Sans',sans-serif;letter-spacing:0.351px;">Guide Type</div>
<div class="a t" id="t103" style="left:1322.4px;top:504.45px;font-size:11px;line-height:11px;color:#6b6b6b;font-weight:400;font-family:'Liberation Sans',sans-serif;letter-spacing:0.390px;">Length</div>
<div class="a t" id="t104" style="left:1393.2px;top:504.45px;font-size:11px;line-height:11px;color:#6b6b6b;font-weight:400;font-family:'Liberation Sans',sans-serif;letter-spacing:0.521px;">Manufacturer</div>
<div class="a t" id="t105" style="left:1494.8px;top:504.45px;font-size:11px;line-height:11px;color:#6b6b6b;font-weight:400;font-family:'Liberation Sans',sans-serif;letter-spacing:0.252px;">Polished Rod Diameter</div>
<div class="a t" id="t106" style="left:1648.7px;top:504.45px;font-size:11px;line-height:11px;color:#6b6b6b;font-weight:400;font-family:'Liberation Sans',sans-serif;letter-spacing:0.308px;">Rod Type</div>
<div class="a t" id="t107" style="left:1742.4px;top:504.45px;font-size:11px;line-height:11px;color:#6b6b6b;font-weight:400;font-family:'Liberation Sans',sans-serif;letter-spacing:0.299px;">Sort Order</div>
<div class="a t" id="t108" style="left:1823.4px;top:504.45px;font-size:11px;line-height:11px;color:#6b6b6b;font-weight:400;font-family:'Liberation Sans',sans-serif;letter-spacing:0.497px;">Type</div>
<div class="a t" id="t109" style="left:946.1px;top:529.25px;font-size:11px;line-height:11px;color:#525252;font-weight:400;font-family:'Liberation Sans',sans-serif;">v1</div>
<div class="a t" id="t110" style="left:946.1px;top:554.75px;font-size:11px;line-height:11px;color:#525252;font-weight:400;font-family:'Liberation Sans',sans-serif;letter-spacing:0.375px;">Current (v2)</div>
<div class="a t" id="t111" style="left:1037.7px;top:529.44px;font-size:11px;line-height:11px;color:#6b6b6b;font-weight:400;font-family:'Liberation Mono',monospace;">Branded</div>
<div class="a t" id="t112" style="left:1108.4px;top:529.44px;font-size:11px;line-height:11px;color:#e11d48;font-weight:400;font-family:'Liberation Mono',monospace;text-decoration:line-through;text-decoration-thickness:1px;">1</div>
<div class="a t" id="t113" style="left:1181.4px;top:529.44px;font-size:11px;line-height:11px;color:#6b6b6b;font-weight:400;font-family:'Liberation Mono',monospace;">EL</div>
<div class="a t" id="t114" style="left:1235.9px;top:529.44px;font-size:11px;line-height:11px;color:#6b6b6b;font-weight:400;font-family:'Liberation Mono',monospace;">Molded AU</div>
<div class="a t" id="t115" style="left:1322.4px;top:529.44px;font-size:11px;line-height:11px;color:#6b6b6b;font-weight:400;font-family:'Liberation Mono',monospace;">2250.00</div>
<div class="a t" id="t116" style="left:1393.2px;top:529.44px;font-size:11px;line-height:11px;color:#6b6b6b;font-weight:400;font-family:'Liberation Mono',monospace;">Weatherford</div>
<div class="a t" id="t117" style="left:1494.8px;top:529.44px;font-size:11px;line-height:11px;color:#6b6b6b;font-weight:400;font-family:'Liberation Mono',monospace;">–</div>
<div class="a t" id="t118" style="left:1648.7px;top:529.44px;font-size:11px;line-height:11px;color:#6b6b6b;font-weight:400;font-family:'Liberation Mono',monospace;">Sucker Rod</div>
<div class="a t" id="t119" style="left:1742.4px;top:529.44px;font-size:11px;line-height:11px;color:#6b6b6b;font-weight:400;font-family:'Liberation Mono',monospace;">1</div>
<div class="a t" id="t120" style="left:1823.4px;top:529.44px;font-size:11px;line-height:11px;color:#6b6b6b;font-weight:400;font-family:'Liberation Mono',monospace;">Sucker Rod</div>
<div class="a t" id="t121" style="left:1037.7px;top:555.14px;font-size:11px;line-height:11px;color:#6b6b6b;font-weight:400;font-family:'Liberation Mono',monospace;">Branded</div>
<div class="a t" id="t122" style="left:1108.4px;top:555.14px;font-size:11px;line-height:11px;color:#047857;font-weight:700;font-family:'Liberation Mono',monospace;">1 1/8</div>
<div class="a t" id="t123" style="left:1181.4px;top:555.14px;font-size:11px;line-height:11px;color:#6b6b6b;font-weight:400;font-family:'Liberation Mono',monospace;">EL</div>
<div class="a t" id="t124" style="left:1235.9px;top:555.14px;font-size:11px;line-height:11px;color:#6b6b6b;font-weight:400;font-family:'Liberation Mono',monospace;">Molded AU</div>
<div class="a t" id="t125" style="left:1322.4px;top:555.14px;font-size:11px;line-height:11px;color:#6b6b6b;font-weight:400;font-family:'Liberation Mono',monospace;">2250.00</div>
<div class="a t" id="t126" style="left:1393.2px;top:555.14px;font-size:11px;line-height:11px;color:#6b6b6b;font-weight:400;font-family:'Liberation Mono',monospace;">Weatherford</div>
<div class="a t" id="t127" style="left:1494.8px;top:555.14px;font-size:11px;line-height:11px;color:#6b6b6b;font-weight:400;font-family:'Liberation Mono',monospace;">–</div>
<div class="a t" id="t128" style="left:1648.7px;top:555.14px;font-size:11px;line-height:11px;color:#6b6b6b;font-weight:400;font-family:'Liberation Mono',monospace;">Sucker Rod</div>
<div class="a t" id="t129" style="left:1742.4px;top:555.14px;font-size:11px;line-height:11px;color:#6b6b6b;font-weight:400;font-family:'Liberation Mono',monospace;">1</div>
<div class="a t" id="t130" style="left:1823.4px;top:555.14px;font-size:11px;line-height:11px;color:#6b6b6b;font-weight:400;font-family:'Liberation Mono',monospace;">Sucker Rod</div>
<div class="a" style="left:937.6px;top:582.8px;width:971.5px;height:104.9px;border:1px solid #e5e5e5;border-radius:6px;overflow:hidden;background:#fff;"></div>
<div class="a" style="left:938.6px;top:583.8px;width:969.5px;height:28.6px;background:#fafafa;border-radius:5px 5px 0 0;"></div>
<div class="a t" id="t131" style="left:950.2px;top:592.15px;font-size:11px;line-height:11px;color:#0a0a0a;font-weight:700;font-family:'Liberation Sans',sans-serif;letter-spacing:-0.236px;">Rod 2</div>
<div class="a t" id="t132" style="left:984.2px;top:590.85px;font-size:15px;line-height:15px;color:#ea6a0c;font-weight:700;font-family:'Liberation Sans',sans-serif;">*</div>
<div class="a" style="left:938.6px;top:636.5999999999999px;width:969.5px;height:1px;background:#e5e5e5;"></div>
<div class="a" style="left:938.6px;top:662.5px;width:969.5px;height:1px;background:#e5e5e5;"></div>
<div class="a t" id="t133" style="left:1038.4px;top:618.85px;font-size:11px;line-height:11px;color:#6b6b6b;font-weight:400;font-family:'Liberation Sans',sans-serif;letter-spacing:0.108px;">Class</div>
<div class="a t" id="t134" style="left:1109.8px;top:618.85px;font-size:11px;line-height:11px;color:#1a1a1a;font-weight:700;font-family:'Liberation Sans',sans-serif;letter-spacing:0.016px;">Diameter</div>
<div class="a t" id="t135" style="left:1182.8px;top:618.85px;font-size:11px;line-height:11px;color:#6b6b6b;font-weight:400;font-family:'Liberation Sans',sans-serif;letter-spacing:0.116px;">Grade</div>
<div class="a t" id="t136" style="left:1238.4px;top:618.85px;font-size:11px;line-height:11px;color:#6b6b6b;font-weight:400;font-family:'Liberation Sans',sans-serif;letter-spacing:0.351px;">Guide Type</div>
<div class="a t" id="t137" style="left:1325.3px;top:618.85px;font-size:11px;line-height:11px;color:#6b6b6b;font-weight:400;font-family:'Liberation Sans',sans-serif;letter-spacing:0.390px;">Length</div>
<div class="a t" id="t138" style="left:1389.2px;top:618.85px;font-size:11px;line-height:11px;color:#6b6b6b;font-weight:400;font-family:'Liberation Sans',sans-serif;letter-spacing:0.521px;">Manufacturer</div>
<div class="a t" id="t139" style="left:1491.7px;top:618.85px;font-size:11px;line-height:11px;color:#6b6b6b;font-weight:400;font-family:'Liberation Sans',sans-serif;letter-spacing:0.252px;">Polished Rod Diameter</div>
<div class="a t" id="t140" style="left:1646.7px;top:618.85px;font-size:11px;line-height:11px;color:#6b6b6b;font-weight:400;font-family:'Liberation Sans',sans-serif;letter-spacing:0.308px;">Rod Type</div>
<div class="a t" id="t141" style="left:1741.1px;top:618.85px;font-size:11px;line-height:11px;color:#6b6b6b;font-weight:400;font-family:'Liberation Sans',sans-serif;letter-spacing:0.299px;">Sort Order</div>
<div class="a t" id="t142" style="left:1822.8px;top:618.85px;font-size:11px;line-height:11px;color:#6b6b6b;font-weight:400;font-family:'Liberation Sans',sans-serif;letter-spacing:0.497px;">Type</div>
<div class="a t" id="t143" style="left:946.1px;top:643.65px;font-size:11px;line-height:11px;color:#525252;font-weight:400;font-family:'Liberation Sans',sans-serif;">v1</div>
<div class="a t" id="t144" style="left:946.1px;top:669.15px;font-size:11px;line-height:11px;color:#525252;font-weight:400;font-family:'Liberation Sans',sans-serif;letter-spacing:0.375px;">Current (v2)</div>
<div class="a t" id="t145" style="left:1038.4px;top:643.84px;font-size:11px;line-height:11px;color:#6b6b6b;font-weight:400;font-family:'Liberation Mono',monospace;">Branded</div>
<div class="a t" id="t146" style="left:1109.8px;top:643.84px;font-size:11px;line-height:11px;color:#e11d48;font-weight:400;font-family:'Liberation Mono',monospace;text-decoration:line-through;text-decoration-thickness:1px;">1</div>
<div class="a t" id="t147" style="left:1182.8px;top:643.84px;font-size:11px;line-height:11px;color:#6b6b6b;font-weight:400;font-family:'Liberation Mono',monospace;">EL</div>
<div class="a t" id="t148" style="left:1238.4px;top:643.84px;font-size:11px;line-height:11px;color:#6b6b6b;font-weight:400;font-family:'Liberation Mono',monospace;">Molded AU</div>
<div class="a t" id="t149" style="left:1325.3px;top:643.84px;font-size:11px;line-height:11px;color:#6b6b6b;font-weight:400;font-family:'Liberation Mono',monospace;">750.00</div>
<div class="a t" id="t150" style="left:1389.2px;top:643.84px;font-size:11px;line-height:11px;color:#6b6b6b;font-weight:400;font-family:'Liberation Mono',monospace;">Weatherford</div>
<div class="a t" id="t151" style="left:1491.7px;top:643.84px;font-size:11px;line-height:11px;color:#6b6b6b;font-weight:400;font-family:'Liberation Mono',monospace;">–</div>
<div class="a t" id="t152" style="left:1646.7px;top:643.84px;font-size:11px;line-height:11px;color:#6b6b6b;font-weight:400;font-family:'Liberation Mono',monospace;">Sucker Rod</div>
<div class="a t" id="t153" style="left:1741.1px;top:643.84px;font-size:11px;line-height:11px;color:#6b6b6b;font-weight:400;font-family:'Liberation Mono',monospace;">2</div>
<div class="a t" id="t154" style="left:1822.8px;top:643.84px;font-size:11px;line-height:11px;color:#6b6b6b;font-weight:400;font-family:'Liberation Mono',monospace;">Sucker Rod</div>
<div class="a t" id="t155" style="left:1038.4px;top:669.54px;font-size:11px;line-height:11px;color:#6b6b6b;font-weight:400;font-family:'Liberation Mono',monospace;">Branded</div>
<div class="a t" id="t156" style="left:1109.8px;top:669.54px;font-size:11px;line-height:11px;color:#047857;font-weight:700;font-family:'Liberation Mono',monospace;">1 1/8</div>
<div class="a t" id="t157" style="left:1182.8px;top:669.54px;font-size:11px;line-height:11px;color:#6b6b6b;font-weight:400;font-family:'Liberation Mono',monospace;">EL</div>
<div class="a t" id="t158" style="left:1238.4px;top:669.54px;font-size:11px;line-height:11px;color:#6b6b6b;font-weight:400;font-family:'Liberation Mono',monospace;">Molded AU</div>
<div class="a t" id="t159" style="left:1325.3px;top:669.54px;font-size:11px;line-height:11px;color:#6b6b6b;font-weight:400;font-family:'Liberation Mono',monospace;">750.00</div>
<div class="a t" id="t160" style="left:1389.2px;top:669.54px;font-size:11px;line-height:11px;color:#6b6b6b;font-weight:400;font-family:'Liberation Mono',monospace;">Weatherford</div>
<div class="a t" id="t161" style="left:1491.7px;top:669.54px;font-size:11px;line-height:11px;color:#6b6b6b;font-weight:400;font-family:'Liberation Mono',monospace;">–</div>
<div class="a t" id="t162" style="left:1646.7px;top:669.54px;font-size:11px;line-height:11px;color:#6b6b6b;font-weight:400;font-family:'Liberation Mono',monospace;">Sucker Rod</div>
<div class="a t" id="t163" style="left:1741.1px;top:669.54px;font-size:11px;line-height:11px;color:#6b6b6b;font-weight:400;font-family:'Liberation Mono',monospace;">2</div>
<div class="a t" id="t164" style="left:1822.8px;top:669.54px;font-size:11px;line-height:11px;color:#6b6b6b;font-weight:400;font-family:'Liberation Mono',monospace;">Sucker Rod</div>
<div class="a" style="left:911px;top:1028.3px;width:1009px;height:1px;background:#e5e5e5;"></div>
<div class="a t" id="t165" style="left:928.5px;top:1048.55px;font-size:12px;line-height:12px;color:#6b6b6b;font-weight:400;font-family:'Liberation Sans',sans-serif;letter-spacing:0.317px;">Comparing v1 with Current</div>
<div class="a" style="left:1792px;top:1039px;width:126.75px;height:31.8px;background:#1e3eb8;border-radius:6px;"></div>
<svg class="a" style="left:1803px;top:1048px;" width="14" height="14" viewBox="0 0 24 24" fill="none" stroke="#fff" stroke-width="2" stroke-linecap="round" stroke-linejoin="round"><path d="M3 12a9 9 0 1 0 9-9 9.75 9.75 0 0 0-6.74 2.74L3 8"/><path d="M3 3v5h5"/></svg>
<div class="a t m" id="t166" style="left:1824px;top:1048.1px;font-size:14px;line-height:14px;color:#ffffff;font-weight:500;font-family:'Liberation Sans',sans-serif;letter-spacing:0.119px;">Restore to v1</div>
</body></html>
